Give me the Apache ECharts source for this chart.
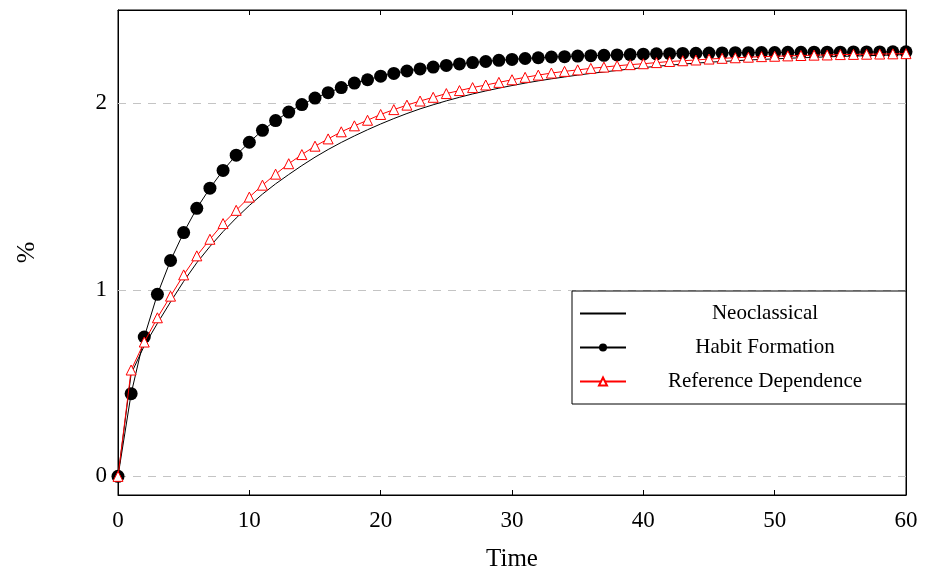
<!DOCTYPE html>
<html>
<head>
<meta charset="utf-8">
<script src="https://cdn.jsdelivr.net/npm/echarts@6/dist/echarts.min.js"></script>
<style>
  html, body { margin: 0; padding: 0; background: #fff; }
  #main { width: 926px; height: 577px; }
</style>
</head>
<body>
<div id="main"></div>
<script>
// periods 0..60
var periods = [];
for (var i = 0; i <= 60; i++) periods.push(i);

var neoclassical = [
  0, 0.55, 0.70, 0.82, 0.935, 1.045, 1.145, 1.232, 1.312, 1.385,
  1.452, 1.513, 1.568, 1.618, 1.666, 1.711, 1.752, 1.790, 1.825, 1.858,
  1.889, 1.918, 1.945, 1.970, 1.992, 2.013, 2.032, 2.050, 2.066, 2.081,
  2.095, 2.108, 2.120, 2.131, 2.141, 2.151, 2.160, 2.168, 2.176, 2.184,
  2.191, 2.198, 2.204, 2.210, 2.215, 2.220, 2.224, 2.228, 2.232, 2.235,
  2.238, 2.241, 2.244, 2.246, 2.249, 2.251, 2.253, 2.255, 2.257, 2.259,
  2.261
];
var habitFormation = [
  0, 0.443, 0.747, 0.976, 1.157, 1.307, 1.437, 1.545, 1.640, 1.722,
  1.791, 1.855, 1.907, 1.953, 1.993, 2.028, 2.057, 2.084, 2.108, 2.126,
  2.145, 2.160, 2.173, 2.184, 2.194, 2.203, 2.211, 2.218, 2.224, 2.230,
  2.235, 2.240, 2.244, 2.248, 2.250, 2.253, 2.255, 2.257, 2.259, 2.261,
  2.263, 2.265, 2.266, 2.267, 2.268, 2.269, 2.270, 2.271, 2.271, 2.272,
  2.272, 2.273, 2.273, 2.274, 2.274, 2.274, 2.275, 2.275, 2.275, 2.276,
  2.276
];
var referenceDependence = [
  0, 0.57, 0.72, 0.85, 0.966, 1.08, 1.182, 1.271, 1.355, 1.426,
  1.497, 1.561, 1.620, 1.676, 1.725, 1.770, 1.809, 1.847, 1.879, 1.909,
  1.940, 1.966, 1.990, 2.012, 2.032, 2.052, 2.068, 2.084, 2.098, 2.112,
  2.126, 2.139, 2.151, 2.162, 2.171, 2.179, 2.187, 2.194, 2.201, 2.207,
  2.212, 2.218, 2.224, 2.228, 2.232, 2.237, 2.241, 2.244, 2.247, 2.250,
  2.252, 2.254, 2.256, 2.258, 2.259, 2.261, 2.262, 2.263, 2.264, 2.265,
  2.266
];
var xTicks = [0, 10, 20, 30, 40, 50, 60];
var yTicks = [0, 1, 2];

function pairs(arr) {
  return arr.map(function (v, i) { return [periods[i], v]; });
}

var chart = echarts.init(document.getElementById('main'));
var serif = '"Liberation Serif", "DejaVu Serif", serif';

var option = {
  animation: false,
  textStyle: { fontFamily: serif, color: '#000' },
  grid: {
    left: 118,
    right: 20,
    top: 10,
    bottom: 82,
    show: true,
    borderColor: '#000',
    borderWidth: 1,
    backgroundColor: 'transparent'
  },
  legend: {
    orient: 'vertical',
    left: 572,
    top: 291,
    padding: [12, 44, 12, 7],
    itemGap: 13,
    itemWidth: 46,
    itemHeight: 10,
    backgroundColor: '#fff',
    borderColor: '#000',
    borderWidth: 1,
    formatter: function (name) { return '{a|' + name + '}'; },
    textStyle: {
      fontFamily: serif,
      color: '#000',
      rich: {
        a: { fontFamily: serif, fontSize: 21, width: 268, align: 'center', color: '#000' }
      }
    },
    data: [
      { name: 'Neoclassical', itemStyle: { opacity: 0 } },
      'Habit Formation',
      'Reference Dependence'
    ]
  },
  xAxis: [{
    type: 'value',
    min: 0,
    max: 60,
    interval: 10,
    name: 'Time',
    nameLocation: 'middle',
    nameGap: 52,
    nameTextStyle: { fontFamily: serif, fontSize: 25, color: '#000' },
    axisLine: { show: true, onZero: false, lineStyle: { color: '#000', width: 1 } },
    axisTick: { show: true, inside: true, length: 5, lineStyle: { color: '#000' } },
    axisLabel: { fontFamily: serif, fontSize: 23, color: '#000', margin: 14 },
    splitLine: { show: false }
  }, {
    type: 'value',
    position: 'top',
    min: 0,
    max: 60,
    interval: 10,
    axisLine: { show: true, onZero: false, lineStyle: { color: '#000', width: 1 } },
    axisTick: { show: true, inside: true, length: 5, lineStyle: { color: '#000' } },
    axisLabel: { show: false },
    splitLine: { show: false }
  }],
  yAxis: [{
    type: 'value',
    min: -0.1,
    max: 2.5,
    name: '%',
    nameLocation: 'middle',
    nameGap: 78,
    nameRotate: 90,
    nameTextStyle: { fontFamily: serif, fontSize: 26, color: '#000' },
    axisLine: { show: true, onZero: false, lineStyle: { color: '#000', width: 1 } },
    axisTick: { show: true, inside: true, length: 5, customValues: yTicks, lineStyle: { color: '#000' } },
    axisLabel: { fontFamily: serif, fontSize: 23, color: '#000', margin: 11, customValues: yTicks },
    splitLine: { show: false }
  }, {
    type: 'value',
    position: 'right',
    min: -0.1,
    max: 2.5,
    axisLine: { show: true, onZero: false, lineStyle: { color: '#000', width: 1 } },
    axisTick: { show: true, inside: true, length: 5, customValues: yTicks, lineStyle: { color: '#000' } },
    axisLabel: { show: false, customValues: yTicks },
    splitLine: { show: false }
  }],
  series: [
    {
      name: 'Neoclassical',
      type: 'line',
      data: pairs(neoclassical),
      symbol: 'none',
      lineStyle: { color: '#000', width: 1 },
      itemStyle: { color: '#000' },
      z: 2,
      markLine: {
        silent: true,
        symbol: 'none',
        label: { show: false },
        lineStyle: { color: '#c4c4c4', type: [8, 7], width: 1 },
        data: yTicks.map(function (v) { return { yAxis: v }; }),
        z: 1
      }
    },
    {
      name: 'Habit Formation',
      type: 'line',
      data: pairs(habitFormation),
      symbol: 'circle',
      symbolSize: 13,
      showAllSymbol: true,
      lineStyle: { color: '#000', width: 1 },
      itemStyle: { color: '#000', borderWidth: 0 },
      z: 3
    },
    {
      name: 'Reference Dependence',
      type: 'line',
      data: pairs(referenceDependence),
      symbol: 'triangle',
      symbolSize: 10,
      showAllSymbol: true,
      lineStyle: { color: '#ff0000', width: 1 },
      itemStyle: { color: '#fff', borderColor: '#ff0000', borderWidth: 1 },
      z: 4
    }
  ]
};

chart.setOption(option);
</script>
</body>
</html>
